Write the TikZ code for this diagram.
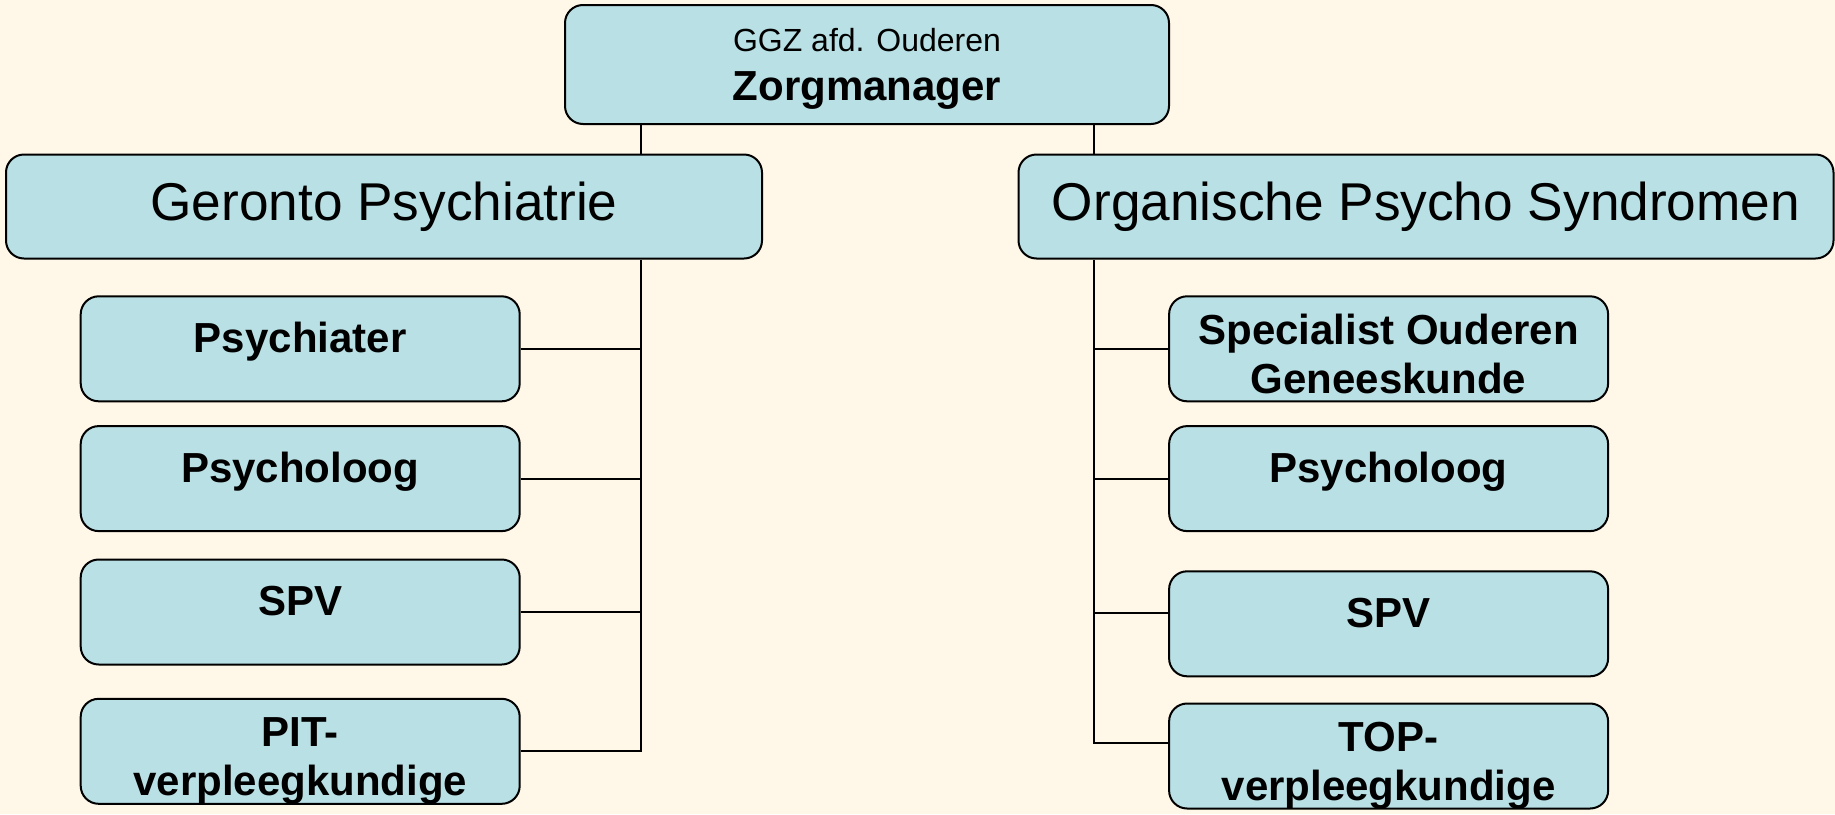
\documentclass[tikz,border=0pt]{standalone}
\usepackage{fontspec}
\setmainfont{Liberation Sans}
\usepackage{xcolor}
\usepackage{tikz}

\definecolor{bgcream}{RGB}{255,248,232}
\definecolor{boxcyan}{RGB}{185,224,228}
\newcommand{\boxlines}[2]{\raisebox{#1}[\height][\depth]{\begin{tabular}{@{}c@{}}#2\end{tabular}}}

\begin{document}
\begin{tikzpicture}[x=0.5pt,y=-0.5pt,
    unit/.style={draw,line width=1pt,fill=boxcyan,rounded corners=9pt,inner sep=0pt},
    head/.style={unit,minimum width=302pt,minimum height=59.5pt,font=\fontsize{16}{24.5}\selectfont},
    dept/.style={unit,minimum height=52pt,font=\fontsize{26.6}{32}\selectfont},
    staff/.style={unit,minimum width=219.5pt,minimum height=52.5pt,font=\fontsize{21}{24.5}\selectfont\bfseries},
    link/.style={line width=0.9pt}]
    \fill[bgcream] (0,0) rectangle (1835,814);
    \useasboundingbox (0,0) rectangle (1835,814);

    \node[head] (zorg) at (867,64.5) {\boxlines{-0.75pt}{GGZ afd. Ouderen\\{\fontsize{21}{24.5}\selectfont\bfseries Zorgmanager}}};
    \node[dept,minimum width=378pt] (geronto) at (384,206.5) {Geronto Psychiatrie};
    \node[dept,minimum width=407.5pt] (organisch) at (1426,206.5) {Organische Psycho Syndromen};

    \node[staff] (psychiater) at (300.2,348.8) {\boxlines{3pt}{Psychiater}};
    \node[staff] (psychl) at (300.2,478.6) {\boxlines{3pt}{Psycholoog}};
    \node[staff] (spvl) at (300.2,612) {\boxlines{3pt}{SPV}};
    \node[staff] (pit) at (300.2,751.3) {\boxlines{-5pt}{PIT-\\verpleegkundige}};

    \node[staff] (specialist) at (1388.6,348.8) {\boxlines{-5pt}{Specialist Ouderen\\Geneeskunde}};
    \node[staff] (psychr) at (1388.6,478.6) {\boxlines{3pt}{Psycholoog}};
    \node[staff] (spvr) at (1388.6,623.8) {\boxlines{3pt}{SPV}};
    \node[staff] (topv) at (1388.6,756) {\boxlines{-5pt}{TOP-\\verpleegkundige}};

    \coordinate (lspine) at (641.3,0);
    \coordinate (rspine) at (1094.2,0);

    \draw[link] (zorg.south -| lspine) -- (geronto.north -| lspine);
    \draw[link] (zorg.south -| rspine) -- (organisch.north -| rspine);
    \draw[link] (geronto.south -| lspine) |- (pit.east);
    \foreach \k in {psychiater,psychl,spvl}
        \draw[link] (\k.east) -- (\k.east -| lspine);
    \draw[link] (organisch.south -| rspine) |- ([yshift=6.5pt]topv.west);
    \draw[link] (specialist.west) -- (specialist.west -| rspine);
    \draw[link] (psychr.west) -- (psychr.west -| rspine);
    \draw[link] ([yshift=5.3pt]spvr.west) -- ([yshift=5.3pt]spvr.west -| rspine);
\end{tikzpicture}
\end{document}
